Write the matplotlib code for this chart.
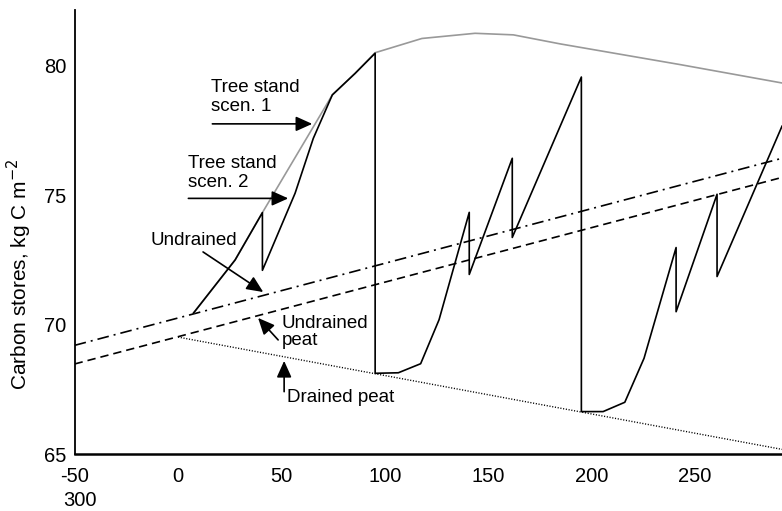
import numpy as np
import matplotlib
matplotlib.use("Agg")
import matplotlib.pyplot as plt

plt.rcParams['font.family'] = ['Liberation Sans', 'DejaVu Sans']
plt.rcParams['axes.unicode_minus'] = False

# --- data (years, kg C m-2) ---
undrained_x = [-50, 292]
undrained_y = [69.2, 76.43]

undrained_peat_x = [-50, 292]
undrained_peat_y = [68.48, 75.69]

drained_peat_x = [0, 292]
drained_peat_y = [69.52, 65.18]

# scenario 1: no thinnings, single grey curve
scen1_x = [7.4, 27.6, 40.8, 74.6, 85.6, 95.3, 117.9, 143.6, 162.1, 184.8, 242.8, 292]
scen1_y = [70.44, 72.5, 74.33, 78.88, 79.71, 80.51, 81.06, 81.26, 81.2, 80.85, 80.05, 79.34]

# scenario 2: thinnings and clear cuts (black)
scen2_x = [7.4, 27.6, 40.8, 40.8, 56.6, 65.4, 74.6, 85.6, 95.3, 95.3, 106.5, 117.3,
           126.2, 140.8, 140.8, 161.6, 161.6, 195.0, 195.0, 205.5, 216.0, 225.3,
           240.8, 240.8, 260.6, 260.6, 292]
scen2_y = [70.44, 72.5, 74.33, 72.1, 75.08, 77.2, 78.88, 79.71, 80.49, 68.12, 68.14, 68.49,
           70.19, 74.34, 71.94, 76.43, 73.37, 79.57, 66.64, 66.64, 67.0, 68.7,
           72.98, 70.5, 75.04, 71.86, 77.67]

xticks = [-50, 0, 50, 100, 150, 200, 250]
yticks = [65, 70, 75, 80]

fig = plt.figure(figsize=(7.82, 5.11), dpi=100)
ax = fig.add_axes([0.0954, 0.1115, 0.9046, 0.8689])

ax.plot(undrained_x, undrained_y, color='black', lw=1.2, dashes=(7, 3, 1.2, 3))
ax.plot(undrained_peat_x, undrained_peat_y, color='black', lw=1.2, dashes=(5, 3))
ax.plot(drained_peat_x, drained_peat_y, color='black', lw=1.0, dashes=(0.8, 1.2))
ax.plot(scen1_x, scen1_y, color='#999999', lw=1.2)
ax.plot(scen2_x, scen2_y, color='black', lw=1.2)

ax.set_xlim(-50, 292)
ax.set_ylim(65, 82.16)
ax.set_xticks(xticks)
ax.set_yticks(yticks)
ax.tick_params(length=0, labelsize=14.5)
ax.tick_params(axis='x', pad=9)
ax.tick_params(axis='y', pad=6)
for s in ['top', 'right']:
    ax.spines[s].set_visible(False)
ax.spines['left'].set_linewidth(1.3)
ax.spines['bottom'].set_linewidth(1.8)

ax.set_ylabel('Carbon stores, kg C m$^{-2}$', fontsize=15)
ax.yaxis.set_label_coords(-0.057, 0.405)

# the 300 label sits wrapped under -50 in the original
fig.text(0.102, 0.0205, '300', fontsize=14.5, ha='center', va='center')

arrow = dict(arrowstyle='-|>,head_length=1.0,head_width=0.45', mutation_scale=10,
             color='black', lw=1.2, shrinkA=0, shrinkB=0)
fs = 13.5
ax.text(16.1, 79.5, 'Tree stand\nscen. 1', fontsize=fs, va='top', ha='left', linespacing=1.17)
ax.annotate('', xy=(64.9, 77.76), xytext=(16.6, 77.76), arrowprops=arrow)
ax.text(5.0, 76.56, 'Tree stand\nscen. 2', fontsize=fs, va='top', ha='left', linespacing=1.17)
ax.annotate('', xy=(53.3, 74.88), xytext=(5.0, 74.88), arrowprops=arrow)
ax.text(-13.5, 73.58, 'Undrained', fontsize=fs, va='top', ha='left')
ax.annotate('', xy=(41.2, 71.26), xytext=(12.1, 72.81), arrowprops=arrow)
ax.text(50.1, 70.37, 'Undrained\npeat', fontsize=fs, va='top', ha='left', linespacing=1.0)
ax.annotate('', xy=(38.7, 70.26), xytext=(48.4, 69.41), arrowprops=arrow)
ax.text(52.8, 67.51, 'Drained peat', fontsize=fs, va='top', ha='left')
ax.annotate('', xy=(51.3, 68.6), xytext=(51.3, 67.41), arrowprops=arrow)

fig.savefig('out.png', dpi=100)
